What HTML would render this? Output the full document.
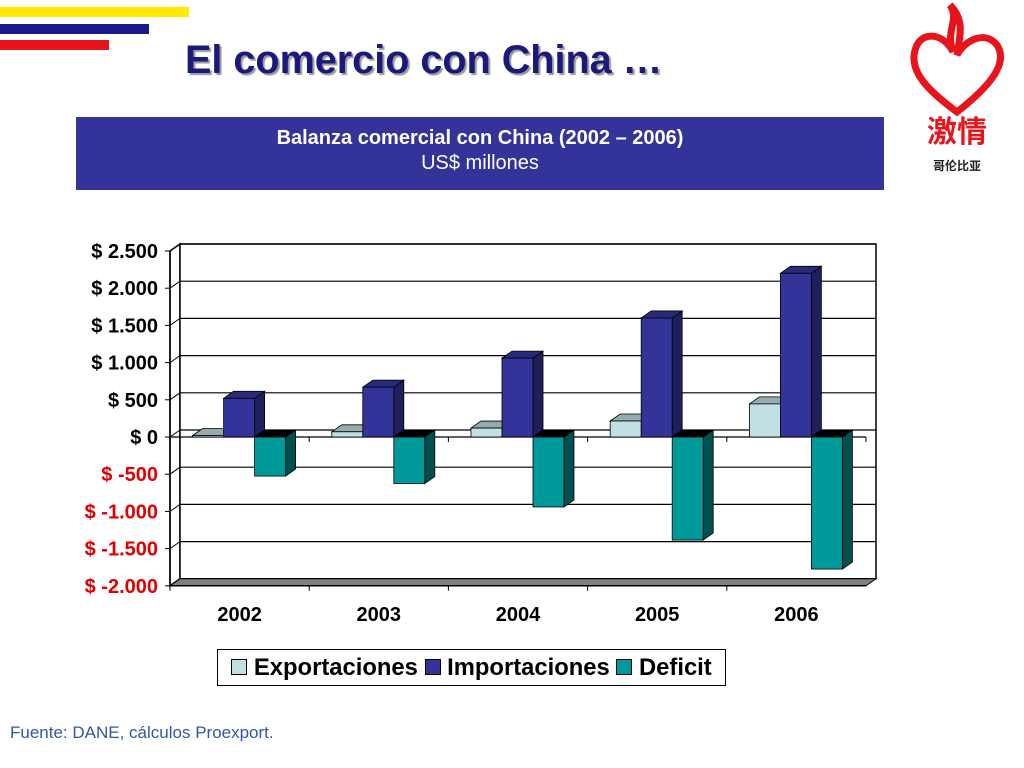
<!DOCTYPE html>
<html><head><meta charset="utf-8"><style>
body{margin:0;width:1024px;height:768px;background:#fff;font-family:"Liberation Sans","Noto Sans CJK SC",sans-serif;overflow:hidden;position:relative}
</style></head><body>
<div style="position:absolute;left:0;top:7px;width:189px;height:10px;background:#ffea00"></div>
<div style="position:absolute;left:0;top:24px;width:149px;height:10px;background:#1a1a8c"></div>
<div style="position:absolute;left:0;top:40px;width:109px;height:10px;background:#e8141c"></div>
<div style="position:absolute;left:185px;top:38px;font-size:39.6px;font-weight:bold;color:#1a1a7c;text-shadow:2px 2px 1px #999;white-space:nowrap">El comercio con China …</div>
<div style="position:absolute;left:905px;top:0;width:110px;height:180px">
<svg width="110" height="180"><path d="M52 112 C25 92 0 70 12 45 C20 30 40 35 48 52 C40 30 55 20 45 5 C60 20 55 35 52 55 C60 40 80 30 92 45 C105 65 80 90 52 112Z" fill="none" stroke="#e8141c" stroke-width="7"/>
<text x="52" y="142" text-anchor="middle" font-size="30" fill="#e8141c" font-family="Noto Sans CJK SC,sans-serif" font-weight="bold">激情</text>
<text x="52" y="170" text-anchor="middle" font-size="12" fill="#222" font-family="Noto Sans CJK SC,sans-serif" font-weight="bold">哥伦比亚</text></svg></div>
<div style="position:absolute;left:76px;top:117px;width:808px;height:73px;background:#333399;color:#fff;text-align:center">
<div style="font-size:20px;font-weight:bold;margin-top:10px">Balanza comercial con China (2002 – 2006)</div>
<div style="font-size:20px;margin-top:2px">US$ millones</div></div>
<svg id="chart" width="1024" height="768" style="position:absolute;left:0;top:0"></svg>
<div style="position:absolute;left:217px;top:649px;width:507px;height:35px;border:1px solid #000;background:#fff;font-size:23.8px;font-weight:bold;line-height:35px;white-space:nowrap;text-align:center">
<span style="display:inline-block;width:14px;height:14px;background:#c0e0e4;border:1px solid #000"></span>&nbsp;Exportaciones
<span style="display:inline-block;width:14px;height:14px;background:#333399;border:1px solid #000"></span>&nbsp;Importaciones
<span style="display:inline-block;width:14px;height:14px;background:#009999;border:1px solid #000"></span>&nbsp;Deficit</div>
<div style="position:absolute;left:10px;top:723px;font-size:17px;color:#3355aa">Fuente: DANE, cálculos Proexport.</div>
<script>
const categories=["2002","2003","2004","2005","2006"];
const exportaciones=[20,70,120,215,445];
const importaciones=[520,670,1060,1600,2200];
const deficit=[-525,-625,-940,-1385,-1775];
const ticks=[2500,2000,1500,1000,500,0,-500,-1000,-1500,-2000];
const tickLabels=["$ 2.500","$ 2.000","$ 1.500","$ 1.000","$ 500","$ 0","$ -500","$ -1.000","$ -1.500","$ -2.000"];
const svg=document.getElementById('chart');const NS="http://www.w3.org/2000/svg";
const X0=170,X1=866,DX=10,DY=-7;
function y(v){return 437-v*0.0744;}
function add(t,a,p){const e=document.createElementNS(NS,t);for(const k in a)e.setAttribute(k,a[k]);(p||svg).appendChild(e);return e;}
const g=add('g',{});


add('polygon',{points:`${X0},${y(2500)} ${X0+DX},${y(2500)+DY} ${X0+DX},${y(-2000)+DY} ${X0},${y(-2000)}`,fill:'#fff',stroke:'#000','stroke-width':1.5},g);
add('rect',{x:X0+DX,y:y(2500)+DY,width:X1-X0,height:y(-2000)-y(2500),fill:'#fff',stroke:'#000','stroke-width':1.5},g);
ticks.forEach((t,i)=>{
 const l=add('line',{x1:X0+DX,x2:X1+DX,y1:y(t)+DY,y2:y(t)+DY,stroke:'#000','stroke-width':1.2},g);
 
 add('line',{x1:X0,y1:y(t),x2:X0+DX,y2:y(t)+DY,stroke:'#000'},g);
 add('line',{x1:X0-5,x2:X0,y1:y(t),y2:y(t),stroke:'#000'},g);
 const tx=add('text',{x:158,y:y(t)+7,'text-anchor':'end','font-size':20,'font-weight':'bold',fill:t<0?'#e00000':'#000'},g);
 tx.textContent=tickLabels[i];
 
});
add('polygon',{points:`${X0},${y(-2000)} ${X0+DX},${y(-2000)+DY} ${X1+DX},${y(-2000)+DY} ${X1},${y(-2000)}`,fill:'#808080',stroke:'#000'},g);
add('line',{x1:X0,x2:X1,y1:y(0),y2:y(0),stroke:'#000','stroke-width':1.2},g);
add('line',{x1:X0,x2:X0,y1:y(2500),y2:y(-2000),stroke:'#000','stroke-width':1.5},g);
const cw=(X1-X0)/categories.length,bw=31;
function bar(cx,v,front,side,top,name){
 const bg=add('g',{},g);
 
 
 const y0=y(0),y1=y(v),ty=Math.min(y0,y1),by=Math.max(y0,y1);
 add('polygon',{points:`${cx+bw},${ty} ${cx+bw+DX},${ty+DY} ${cx+bw+DX},${by+DY} ${cx+bw},${by}`,fill:side,stroke:'#000','stroke-width':0.8},bg);
 add('polygon',{points:`${cx},${ty} ${cx+DX},${ty+DY} ${cx+bw+DX},${ty+DY} ${cx+bw},${ty}`,fill:top,stroke:'#000','stroke-width':0.8},bg);
 add('rect',{x:cx,y:ty,width:bw,height:by-ty,fill:front,stroke:'#000','stroke-width':0.8},bg);
}
categories.forEach((c,i)=>{
 const cx=X0+cw*i+cw/2;
 bar(cx-47,exportaciones[i],'#c0e0e4','#8aa8ac','#94acae','bar-exportaciones-'+c);
 bar(cx-16,importaciones[i],'#333399','#1f1f5c','#2a2a7a','bar-importaciones-'+c);
 bar(cx+15,deficit[i],'#009999','#005050','#000','bar-deficit-'+c);
 const tx=add('text',{x:cx,y:621,'text-anchor':'middle','font-size':20,'font-weight':'bold'},g);
 tx.textContent=c;
 
 add('line',{x1:X0+cw*i,x2:X0+cw*i,y1:y(-2000),y2:y(-2000)+5,stroke:'#000'},g);
 add('line',{x1:X0+cw*(i+1),x2:X0+cw*(i+1),y1:y(0),y2:y(0)+5,stroke:'#000'},g);
});
add('line',{x1:X0,x2:X1,y1:y(-2000),y2:y(-2000),stroke:'#000','stroke-width':1.5},g);
</script>
</body></html>
